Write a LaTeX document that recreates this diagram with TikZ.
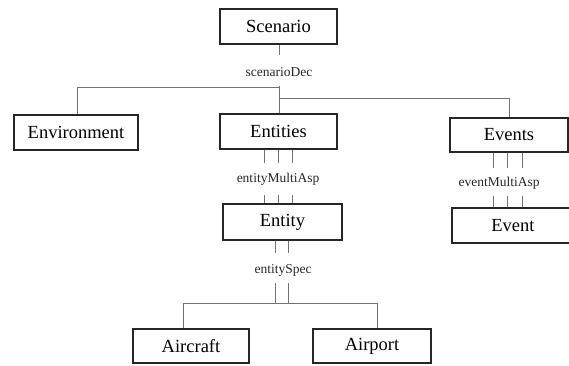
\documentclass[tikz,border=0pt]{standalone}
\usepackage{fontspec}
\setmainfont{Liberation Serif}
\begin{document}
\begin{tikzpicture}[x=1pt,y=-1pt,
  box/.style={draw=black!85,line width=1.3pt,rectangle,inner sep=0pt,font=\fontsize{18.5}{20}\selectfont},
  conn/.style={draw=black!55,line width=0.9pt},
  lbl/.style={inner sep=1pt,font=\fontsize{13.5}{15}\selectfont,text=black!85}]
\useasboundingbox (0,0) rectangle (569,365);
\clip (0,0) rectangle (569,365);
\node[box,minimum width=117pt,minimum height=35pt] (scen) at (278.5,26.5) {Scenario};
\node[box,minimum width=124pt,minimum height=35pt] (env) at (76,132.5) {Environment};
\node[box,minimum width=117pt,minimum height=35pt] (ents) at (278.5,131.5) {Entities};
\node[box,minimum width=118pt,minimum height=34pt] (evts) at (509,135) {Events};
\node[box,minimum width=119pt,minimum height=36pt] (ent) at (282.5,222) {Entity};
\node[box,minimum width=122pt,minimum height=35pt] (evt) at (513,225.5) {Event};
\node[box,minimum width=116pt,minimum height=34pt] (air) at (191,346) {Aircraft};
\node[box,minimum width=118pt,minimum height=34pt] (port) at (372,346) {Airport};
% labels
\node[lbl] (sdec) at (279,72) {scenarioDec};
\node[lbl] (ema) at (278,179) {entityMultiAsp};
\node[lbl] (evma) at (499,183) {eventMultiAsp};
\node[lbl] (espec) at (283,270) {entitySpec};
% junction coordinates
\coordinate (s1) at (279,55);
\coordinate (s2) at (279,86);
\coordinate (sl) at (279,87);
\coordinate (sr) at (279,98);
\coordinate (jl) at (77,87);
\coordinate (jr) at (509,98);
\coordinate (ja) at (183,303);
\coordinate (jb) at (377,303);
% scenario decomposition
\draw[conn] (scen.south -| s1) -- (s1);
\draw[conn] (s2) -- (s2 |- ents.north);
\draw[conn] (sl) -- (jl) -- (jl |- env.north);
\draw[conn] (sr) -- (jr) -- (jr |- evts.north);
% entity multi aspect
\foreach \x in {264,278,292} {
  \draw[conn] (\x,0 |- ents.south) -- (\x,163);
  \draw[conn] (\x,195) -- (\x,0 |- ent.north);
}
% event multi aspect
\foreach \x in {493,507,522} {
  \draw[conn] (\x,0 |- evts.south) -- (\x,168);
  \draw[conn] (\x,196) -- (\x,0 |- evt.north);
}
% entity spec
\foreach \x in {275,288} {
  \draw[conn] (\x,0 |- ent.south) -- (\x,253);
  \draw[conn] (\x,283) -- (\x,303);
}
\draw[conn] (ja |- air.north) -- (ja) -- (jb) -- (jb |- port.north);
\end{tikzpicture}
\end{document}
